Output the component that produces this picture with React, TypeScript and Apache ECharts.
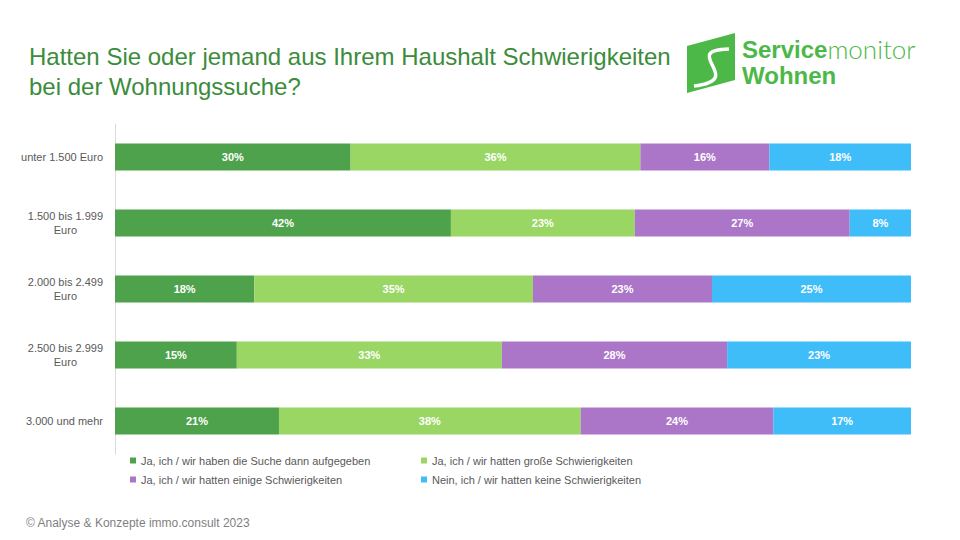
import React, { useEffect, useRef } from "react";
import * as echarts from "echarts";

const categories = [
  "unter 1.500 Euro",
  "1.500 bis 1.999\nEuro",
  "2.000 bis 2.499\nEuro",
  "2.500 bis 2.999\nEuro",
  "3.000 und mehr",
];

const seriesNames = [
  "Ja, ich / wir haben die Suche dann aufgegeben",
  "Ja, ich / wir hatten große Schwierigkeiten",
  "Ja, ich / wir hatten einige Schwierigkeiten",
  "Nein, ich / wir hatten keine Schwierigkeiten",
];

const aufgegeben = [29.6, 42.2, 17.5, 15.3, 20.6];
const grosse = [36.4, 23.1, 35.0, 33.3, 37.9];
const einige = [16.2, 27.0, 22.5, 28.3, 24.2];
const keine = [17.8, 7.7, 25.0, 23.1, 17.3];

const seriesValues = [aufgegeben, grosse, einige, keine];
const colors = ["#4ea24b", "#9ad663", "#ab76c8", "#3ebdf8"];

const titleText =
  "Hatten Sie oder jemand aus Ihrem Haushalt Schwierigkeiten\nbei der Wohnungssuche?";
const footerText = "© Analyse & Konzepte immo.consult 2023";

const FONT = "'Liberation Sans', Arial, sans-serif";

export default function App() {
  const ref = useRef<HTMLDivElement>(null);

  useEffect(() => {
    if (!ref.current) return;
    const chart = echarts.init(ref.current, null, { renderer: "svg" });

    const legendPos = [
      { left: 130, top: 455 },
      { left: 421, top: 455 },
      { left: 130, top: 474 },
      { left: 421, top: 474 },
    ];

    const option: any = {
      animation: false,
      backgroundColor: "#ffffff",
      title: {
        text: titleText,
        left: 24,
        top: 36,
        textStyle: {
          fontFamily: FONT,
          fontSize: 24,
          fontWeight: "normal",
          lineHeight: 30,
          color: "#3b8c3b",
        },
      },
      legend: seriesNames.map((n, i) => ({
        data: [n],
        left: legendPos[i].left,
        top: legendPos[i].top,
        itemWidth: 6,
        itemHeight: 6,
        icon: "rect",
        padding: 0,
        selectedMode: false,
        textStyle: { fontFamily: FONT, fontSize: 11, color: "#595959" },
      })),
      grid: { left: 115, right: 49, top: 124, height: 330 },
      xAxis: { type: "value", min: 0, max: 100, show: false },
      yAxis: {
        type: "category",
        inverse: true,
        data: categories,
        axisLine: { show: true, lineStyle: { color: "#d9d9d9", width: 1 } },
        axisTick: { show: false },
        splitLine: { show: false },
        axisLabel: {
          margin: 12,
          align: "right",
          formatter: (v: string) =>
            v
              .split("\n")
              .map((l) => `{c|${l}}`)
              .join("\n"),
          rich: {
            c: {
              align: "center",
              fontFamily: FONT,
              fontSize: 11,
              lineHeight: 14,
              color: "#595959",
            },
          },
        },
      },
      series: seriesNames.map((n, i) => ({
        name: n,
        type: "bar",
        stack: "total",
        barWidth: 27,
        data: seriesValues[i],
        itemStyle: { color: colors[i] },
        label: {
          show: true,
          position: "inside",
          formatter: (p: any) => `${Math.round(p.value)}%`,
          color: "#ffffff",
          fontFamily: FONT,
          fontSize: 11,
          fontWeight: "bold",
        },
      })),
      graphic: [
        {
          type: "polygon",
          shape: {
            points: [
              [687, 46],
              [735, 33],
              [735, 80],
              [687, 93],
            ],
          },
          style: { fill: "#4cb848" },
        },
        {
          type: "bezierCurve",
          shape: {
            x1: 729,
            y1: 49,
            cpx1: 678,
            cpy1: 50,
            cpx2: 748,
            cpy2: 80,
            x2: 694,
            y2: 86,
          },
          style: { stroke: "#ffffff", lineWidth: 3.5, fill: null },
        },
        {
          type: "text",
          left: 742,
          top: 36,
          style: {
            text: "{b|Service}{r|monitor}",
            rich: {
              b: {
                fontFamily: FONT,
                fontSize: 24,
                lineHeight: 24,
                fontWeight: "bold",
                fill: "#4cb848",
              },
              r: {
                fontFamily: "Lato, 'Liberation Sans', sans-serif",
                fontSize: 26,
                lineHeight: 24,
                fontWeight: 300,
                fill: "#4cb848",
              },
            },
          },
        },
        {
          type: "text",
          left: 742,
          top: 63,
          style: {
            text: "Wohnen",
            fontFamily: FONT,
            fontSize: 24,
            lineHeight: 24,
            fontWeight: "bold",
            fill: "#4cb848",
          },
        },
        {
          type: "text",
          left: 26,
          top: 517,
          style: {
            text: footerText,
            fontFamily: FONT,
            fontSize: 12,
            fill: "#7f7f7f",
          },
        },
      ],
    };

    chart.setOption(option);
    return () => chart.dispose();
  }, []);

  return (
    <div
      ref={ref}
      style={{ position: "fixed", left: 0, top: 0, width: 960, height: 540 }}
    />
  );
}
